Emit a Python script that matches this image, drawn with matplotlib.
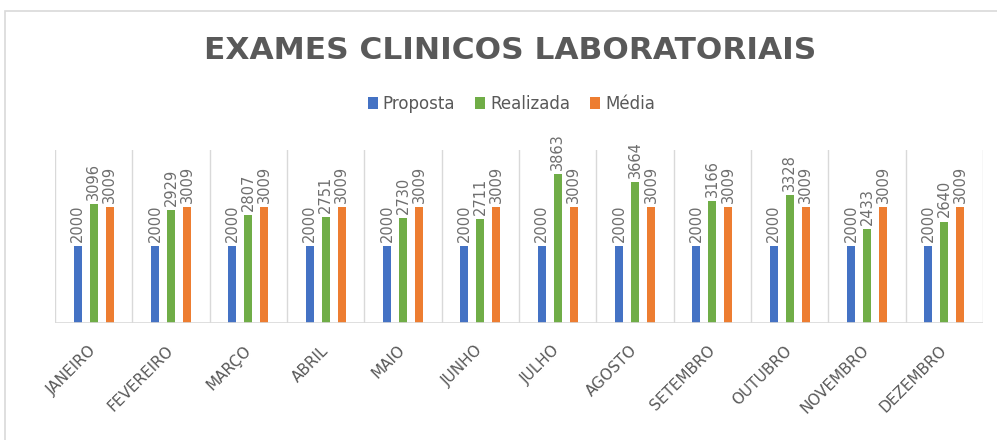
import numpy as np
import matplotlib
matplotlib.use('Agg')
import matplotlib.pyplot as plt
from matplotlib.patches import Rectangle

meses = ['JANEIRO', 'FEVEREIRO', 'MARÇO', 'ABRIL', 'MAIO', 'JUNHO',
         'JULHO', 'AGOSTO', 'SETEMBRO', 'OUTUBRO', 'NOVEMBRO', 'DEZEMBRO']
proposta = [2000, 2000, 2000, 2000, 2000, 2000, 2000, 2000, 2000, 2000, 2000, 2000]
realizada = [3096, 2929, 2807, 2751, 2730, 2711, 3863, 3664, 3166, 3328, 2433, 2640]
media = [3009, 3009, 3009, 3009, 3009, 3009, 3009, 3009, 3009, 3009, 3009, 3009]

series = [('Proposta', proposta, '#4472C4'),
          ('Realizada', realizada, '#70AD47'),
          ('Média', media, '#ED7D31')]

gray = '#595959'
grid = '#D9D9D9'

fig = plt.figure(figsize=(9.97, 4.40), dpi=100)
ax = fig.add_axes([55 / 997, 1 - 323 / 440, (983 - 55) / 997, (323 - 150) / 440])

x = np.arange(len(meses))
w = 0.105
step = 0.207
handles = []
for i, (nome, vals, cor) in enumerate(series):
    pos = x + (i - 1) * step
    b = ax.bar(pos, vals, w, color=cor, label=nome, zorder=3)
    handles.append(b)
    for p, v in zip(pos, vals):
        ax.annotate(str(v), (p, v), xytext=(0, 3), textcoords='offset points',
                    rotation=90, ha='center', va='bottom', fontsize=10.5,
                    color='#6E6E6E')

ax.set_xlim(-0.5, len(meses) - 0.5)
ax.set_ylim(0, 4500)
ax.set_yticks([])
for b in np.arange(-0.5, len(meses), 1.0):
    ax.axvline(b, color=grid, lw=1, zorder=1)
for s in ax.spines.values():
    s.set_visible(False)
ax.axhline(0, color=grid, lw=1.2, zorder=4)

ax.set_xticks(x)
ax.set_xticklabels(meses, rotation=45, ha='right', va='center',
                   rotation_mode='anchor', fontsize=11, color=gray)
ax.tick_params(axis='x', length=0, pad=18)

fig.text(0.512, 0.886, 'EXAMES CLINICOS LABORATORIAIS', ha='center', va='center',
         fontsize=22.5, fontweight='bold', color=gray)

fig.legend(handles=handles, loc='center', bbox_to_anchor=(0.513, 0.764), ncol=3,
           frameon=False, fontsize=12, handlelength=0.6, handleheight=0.7,
           handletextpad=0.3, columnspacing=1.2, labelcolor=gray)

fig.patches.append(Rectangle((5 / 997, -0.1), 1.2, 1.1 - 11 / 440,
                             transform=fig.transFigure, fill=False,
                             edgecolor=grid, lw=1.2))

plt.savefig('out.png', dpi=100)
